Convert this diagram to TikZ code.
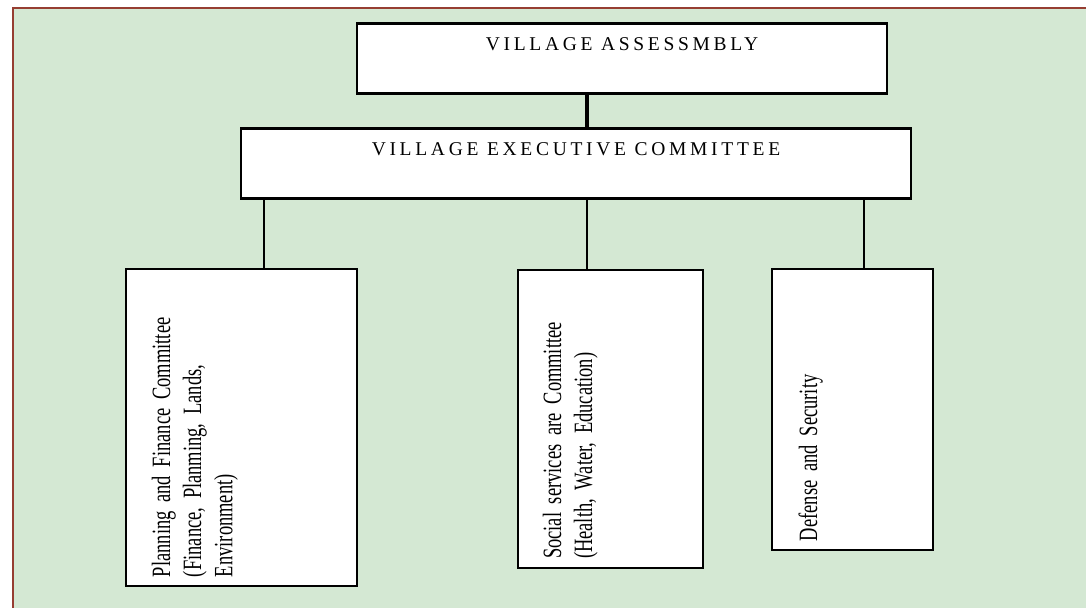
\documentclass[tikz,border=0pt]{standalone}
\usepackage{fontspec}
\setmainfont{Liberation Serif}
\newfontfamily\capsfont[LetterSpace=19]{Liberation Serif}
\newfontfamily\sidefont[FakeStretch=0.70,WordSpace=0.6]{Liberation Serif}
\usetikzlibrary{calc}
\definecolor{PanelClr}{RGB}{212,232,211}
\definecolor{FrameClr}{RGB}{150,62,50}

\begin{document}
\begin{tikzpicture}[x=0.5pt,y=-0.5pt,
  headbox/.style={draw,fill=white,line width=1.3pt,inner xsep=0pt,inner ysep=0pt,
    text height=13.75pt,text depth=21.25pt,
    font=\capsfont\fontsize{9.75}{12}\selectfont},
  sidebox/.style={draw,fill=white,line width=1.3pt,rotate=90,inner xsep=4.5pt,inner ysep=0pt,
    align=left,font=\sidefont\fontsize{13.2}{15.6}\selectfont},
  link/.style={line width=1pt},
  trunk/.style={line width=2pt}]
\useasboundingbox (0,0) rectangle (1086,608);

\fill[PanelClr] (13,8) rectangle (1086,608);
\draw[FrameClr,line width=0.8pt] (13,608) -- (13,8) -- (1086,8);

\node[headbox,minimum width=265pt,anchor=north] (assembly) at (622,22) {VILLAGE ASSESSMBLY};
\node[headbox,minimum width=335pt,anchor=north] (exec) at (576,127) {VILLAGE EXECUTIVE COMMITTEE};

\node[sidebox,text width=149.5pt,text height=22pt,text depth=93.5pt] (plan) at (241.5,427.5)
  {Planning and Finance Committee\\(Finance, Planming, Lands,\\Environment)};
\node[sidebox,text width=140pt,text height=21.5pt,text depth=71pt] (social) at (610.5,419)
  {Social services are Committee\\(Health, Water, Education)};
\node[sidebox,text width=131.5pt,text height=22.5pt,text depth=58pt] (defense) at (852.5,409.5)
  {Defense and Security};

\draw[trunk] ([xshift=-17.5pt]assembly.south) -- ([xshift=-17.5pt]assembly.south |- exec.north);
\draw[link] ([xshift=11.25pt]plan.east) -- ([xshift=11.25pt]plan.east |- exec.south);
\draw[link] ([xshift=-11.75pt]social.east) -- ([xshift=-11.75pt]social.east |- exec.south);
\draw[link] ([xshift=5.75pt]defense.east) -- ([xshift=5.75pt]defense.east |- exec.south);

\end{tikzpicture}
\end{document}
